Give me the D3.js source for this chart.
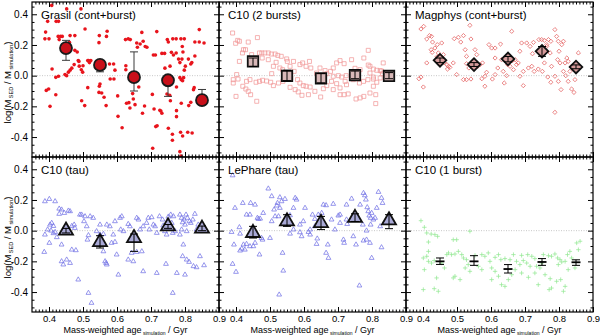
<!DOCTYPE html>
<html><head><meta charset="utf-8">
<script src="https://cdn.jsdelivr.net/npm/d3@7"></script>
<style>html,body{margin:0;padding:0;background:#fff;}svg{display:block;}</style>
</head><body>
<div id="chart"></div>
<script>
// ---------- DATA ----------
const panelTitles = ["Grasil (cont+burst)","C10 (2 bursts)","Magphys (cont+burst)","C10 (tau)","LePhare (tau)","C10 (1 burst)"];
const xTickVals = [0.4,0.5,0.6,0.7,0.8,0.9];
const yTickVals = [-0.4,-0.2,0.0,0.2,0.4];
const meanAge = [0.45,0.55,0.65,0.75,0.85];

const grasilPts = [[0.408,0.458],[0.452,0.435],[0.494,0.435],[0.390,0.284],[0.400,0.24],[0.388,0.24],[0.421,0.354],[0.428,0.354],[0.396,0.354],[0.427,0.256],[0.434,0.256],[0.439,0.256],[0.430,0.235],[0.462,0.261],[0.476,0.261],[0.460,0.217],[0.409,0.043],[0.420,-0.011],[0.428,-0.004],[0.452,0],[0.447,0.007],[0.457,0.023],[0.462,0.036],[0.467,0.049],[0.392,-0.096],[0.399,-0.087],[0.403,-0.2],[0.420,-0.124],[0.476,0.165],[0.483,0.154],[0.474,0.072],[0.486,0.098],[0.488,0.093],[0.489,0.062],[0.506,0.304],[0.500,0.065],[0.495,0.039],[0.499,0.023],[0.514,0.098],[0.516,0.098],[0.523,0.098],[0.519,0.085],[0.514,-0.078],[0.505,-0.195],[0.496,-0.163],[0.548,0.261],[0.547,0.215],[0.571,0.289],[0.569,0.256],[0.550,-0.054],[0.547,-0.109],[0.555,-0.113],[0.548,-0.069],[0.568,-0.195],[0.562,-0.141],[0.578,0.076],[0.590,0.076],[0.580,-0.022],[0.591,-0.022],[0.594,0.036],[0.602,-0.132],[0.603,-0.265],[0.626,0.065],[0.626,0.039],[0.615,-0.339],[0.633,0.24],[0.625,0.235],[0.639,0.235],[0.628,-0.18],[0.635,-0.176],[0.646,-0.117],[0.648,-0.152],[0.638,-0.211],[0.653,-0.189],[0.658,0.213],[0.660,0.185],[0.664,-0.074],[0.673,0.282],[0.677,0.224],[0.668,0.206],[0.683,0.19],[0.688,0.185],[0.681,-0.198],[0.675,-0.245],[0.707,0.135],[0.713,0.135],[0.704,-0.122],[0.709,-0.217],[0.714,-0.332],[0.718,-0.326],[0.705,-0.473],[0.729,-0.23],[0.732,-0.245],[0.717,0.287],[0.732,0.145],[0.740,0.145],[0.726,-0.226],[0.748,0.235],[0.751,0.219],[0.764,0.24],[0.774,0.24],[0.760,0.152],[0.766,0.135],[0.774,0.148],[0.741,0.049],[0.756,0.062],[0.747,-0.119],[0.755,-0.128],[0.757,-0.163],[0.751,-0.343],[0.763,-0.382],[0.763,-0.421],[0.775,-0.267],[0.775,-0.228],[0.788,0.24],[0.792,0.19],[0.794,0.154],[0.798,0.24],[0.791,0.108],[0.781,0.108],[0.785,0.085],[0.785,-0.013],[0.789,-0.026],[0.793,-0.033],[0.796,-0.013],[0.798,0.036],[0.801,0.062],[0.789,-0.18],[0.787,-0.369],[0.793,-0.393],[0.785,-0.495],[0.788,-0.523],[0.775,-0.074],[0.810,0.108],[0.817,0.076],[0.820,0.085],[0.829,0.219],[0.842,0.219],[0.856,0.213],[0.842,0.3],[0.827,-0.078],[0.825,-0.091],[0.817,-0.174],[0.811,-0.195],[0.808,-0.369],[0.821,-0.374],[0.829,0.128]];
const grasilMean = [0.18,0.07,-0.01,-0.03,-0.16];
const grasilLo = [0.10,0.025,-0.10,-0.135,-0.19];
const grasilHi = [0.23,0.098,0.155,-0.01,-0.09];

const c10TwoPts = [[0.390,0.278],[0.405,0.230],[0.410,0.224],[0.399,0.211],[0.436,0.219],[0.463,0.248],[0.422,0.169],[0.428,0.169],[0.419,0.148],[0.410,0.093],[0.446,0.137],[0.469,0.148],[0.476,0.148],[0.485,0.148],[0.495,0.148],[0.504,0.141],[0.515,0.141],[0.523,0.132],[0.533,0.126],[0.402,0.007],[0.392,-0.026],[0.406,-0.022],[0.392,-0.048],[0.400,-0.135],[0.420,-0.069],[0.429,-0.087],[0.436,-0.102],[0.443,-0.124],[0.461,-0.167],[0.431,-0.037],[0.441,-0.026],[0.459,-0.043],[0.469,-0.037],[0.478,-0.030],[0.490,-0.035],[0.502,-0.043],[0.510,-0.065],[0.525,-0.048],[0.538,-0.037],[0.549,0.109],[0.551,0.093],[0.569,0.093],[0.588,0.072],[0.596,0.083],[0.510,0.061],[0.518,0.087],[0.529,0.050],[0.495,0.104],[0.477,0.115],[0.505,0.013],[0.537,0.039],[0.559,0.061],[0.571,0.028],[0.561,-0.015],[0.581,-0.026],[0.588,-0.048],[0.598,-0.065],[0.606,-0.069],[0.618,-0.074],[0.559,-0.076],[0.574,-0.091],[0.583,-0.106],[0.594,-0.128],[0.613,-0.124],[0.632,-0.102],[0.642,-0.037],[0.616,0.093],[0.606,0.061],[0.620,0.050],[0.637,0.017],[0.647,0.050],[0.662,0.033],[0.667,0.013],[0.678,0.028],[0.686,0.050],[0.696,0.083],[0.706,0.098],[0.718,0.078],[0.686,-0.004],[0.701,0],[0.711,-0.009],[0.724,0],[0.681,-0.037],[0.696,-0.052],[0.667,-0.065],[0.657,-0.085],[0.649,-0.139],[0.686,-0.091],[0.706,-0.124],[0.718,-0.124],[0.730,-0.119],[0.740,0.104],[0.750,0.048],[0.765,0.039],[0.776,0.115],[0.789,0.165],[0.789,0.069],[0.794,0.061],[0.804,0.043],[0.814,0.035],[0.824,0.033],[0.833,0.083],[0.828,0.030],[0.831,0.013],[0.794,0.017],[0.804,-0.009],[0.814,-0.043],[0.824,-0.015],[0.804,-0.022],[0.745,-0.026],[0.763,-0.048],[0.775,-0.037],[0.788,-0.026],[0.753,-0.152],[0.765,-0.145],[0.776,-0.135],[0.794,-0.113],[0.811,-0.124],[0.811,-0.182],[0.804,-0.069],[0.745,-0.004],[0.760,0],[0.721,-0.037],[0.725,-0.059],[0.706,-0.080]];
const c10TwoMean = [0.093,-0.002,-0.017,0.004,-0.002];
const c10TwoLo = [0.06,-0.033,-0.048,-0.02,-0.02];
const c10TwoHi = [0.115,0.035,0.013,0.03,0.02];

const magphysPts = [[0.394,0.304],[0.402,0.321],[0.388,-0.020],[0.394,-0.009],[0.401,-0.074],[0.411,0.083],[0.411,0.239],[0.419,0.261],[0.425,0.256],[0.428,0.219],[0.424,0.169],[0.427,0.152],[0.435,0.180],[0.442,0.202],[0.445,0.148],[0.441,0.122],[0.455,0.213],[0.460,0.137],[0.463,0.083],[0.470,0.072],[0.475,0.061],[0.479,0.054],[0.472,0.043],[0.489,0.083],[0.492,0.241],[0.499,0.007],[0.504,0.25],[0.511,0.219],[0.519,0.261],[0.524,0.169],[0.528,0.078],[0.535,0.05],[0.528,0.126],[0.538,0.328],[0.541,0.239],[0.528,-0.026],[0.519,-0.026],[0.541,-0.022],[0.553,0.169],[0.558,0.137],[0.561,0.061],[0.568,0.072],[0.575,0.083],[0.573,-0.020],[0.582,-0.004],[0.587,0.022],[0.582,-0.069],[0.594,0.202],[0.602,0.18],[0.612,0.18],[0.612,0.115],[0.620,0.05],[0.604,-0.022],[0.628,0.206],[0.631,0.104],[0.636,0.028],[0.639,-0.048],[0.649,0.072],[0.656,0.061],[0.661,0.289],[0.666,0.039],[0.671,0.104],[0.675,0.072],[0.663,0.098],[0.680,0.083],[0.685,0.159],[0.690,0.213],[0.695,0.028],[0.695,-0.065],[0.705,0.213],[0.710,0.05],[0.720,0.061],[0.725,0.217],[0.727,0.028],[0.715,0.191],[0.741,0.235],[0.749,0.235],[0.757,0.23],[0.764,0.202],[0.769,0.235],[0.776,0.224],[0.764,0.191],[0.774,0.148],[0.757,0.083],[0.767,-0.009],[0.778,0.061],[0.788,0.3],[0.793,0.256],[0.798,0.224],[0.800,0.159],[0.796,0.104],[0.803,0.083],[0.808,0.202],[0.813,0.224],[0.788,-0.004],[0.798,-0.037],[0.806,-0.091],[0.813,0.028],[0.818,0.083],[0.823,0.115],[0.827,0.093],[0.820,0],[0.832,0.028],[0.837,0.061],[0.827,-0.037],[0.837,-0.087],[0.844,-0.109],[0.847,-0.026],[0.857,0.148],[0.788,-0.239],[0.776,-0.043],[0.751,0.028],[0.739,0.043],[0.722,0.143],[0.685,-0.004],[0.646,0],[0.612,0.007]];
const magphysMean = [0.10,0.072,0.109,0.159,0.056];
const magphysLo = [0.085,0.06,0.09,0.126,0.045];
const magphysHi = [0.115,0.085,0.125,0.19,0.07];

const c10TauPts = [[0.388,0.191],[0.401,0.206],[0.418,0.191],[0.388,-0.026],[0.386,-0.139],[0.401,-0.080],[0.413,-0.017],[0.406,0],[0.396,0.007],[0.413,0.030],[0.403,0.039],[0.408,0.050],[0.418,-0.009],[0.423,-0.043],[0.430,0.143],[0.437,0.137],[0.430,0.109],[0.445,0.115],[0.457,0.130],[0.462,0.126],[0.467,0.030],[0.474,0.039],[0.476,0.017],[0.437,-0.091],[0.437,-0.200],[0.442,-0.221],[0.452,-0.189],[0.462,-0.211],[0.467,-0.124],[0.479,-0.128],[0.486,-0.319],[0.516,-0.406],[0.525,-0.471],[0.491,0.104],[0.496,0.104],[0.506,0.093],[0.513,-0.059],[0.516,-0.030],[0.503,0.061],[0.511,0.028],[0.521,0.093],[0.530,0.083],[0.540,-0.004],[0.550,-0.026],[0.560,-0.022],[0.560,-0.135],[0.570,-0.221],[0.568,-0.211],[0.565,-0.200],[0.550,0.039],[0.570,0.039],[0.579,0.028],[0.584,-0.080],[0.589,-0.026],[0.594,-0.074],[0.599,-0.156],[0.604,-0.287],[0.594,0.061],[0.609,0.083],[0.614,0.093],[0.611,0.007],[0.619,-0.004],[0.633,0.043],[0.638,0.028],[0.643,-0.145],[0.648,-0.200],[0.633,-0.189],[0.658,0.083],[0.663,0.072],[0.658,-0.139],[0.673,-0.135],[0.677,-0.265],[0.668,0.007],[0.677,0.028],[0.687,0.050],[0.692,0.083],[0.702,0.087],[0.695,0.007],[0.707,0.039],[0.712,0.028],[0.717,-0.015],[0.717,-0.276],[0.725,0.093],[0.734,0.072],[0.736,0.033],[0.741,-0.004],[0.746,-0.026],[0.751,0.091],[0.758,0.104],[0.766,0.093],[0.761,0.050],[0.764,-0.015],[0.771,-0.004],[0.776,-0.276],[0.764,-0.406],[0.744,-0.217],[0.785,0.104],[0.790,0.083],[0.793,0.054],[0.797,0.072],[0.800,0.039],[0.805,-0.004],[0.790,0.007],[0.785,-0.026],[0.803,0.104],[0.807,0.083],[0.813,0.061],[0.817,0.050],[0.823,0.072],[0.829,0.109],[0.834,0.007],[0.839,0.039],[0.795,-0.091],[0.800,-0.287],[0.805,-0.189],[0.812,-0.204],[0.825,-0.232],[0.834,-0.239],[0.844,-0.167],[0.856,-0.226],[0.793,-0.167]];
const c10TauMean = [0.0,-0.074,-0.048,0.028,0.013];
const c10TauLo = [-0.015,-0.113,-0.135,0.015,0.0];
const c10TauHi = [0.015,-0.033,-0.022,0.04,0.03];

const lephPts = [[0.390,0.360],[0.397,0.148],[0.410,0.022],[0.387,-0.009],[0.412,-0.020],[0.394,-0.091],[0.390,-0.217],[0.400,-0.269],[0.420,0.180],[0.431,0.104],[0.441,0.104],[0.443,0.180],[0.456,0.169],[0.466,0.076],[0.471,0.078],[0.475,-0.048],[0.478,-0.059],[0.422,-0.091],[0.431,-0.087],[0.417,-0.117],[0.412,-0.130],[0.426,-0.124],[0.441,-0.102],[0.451,-0.102],[0.456,-0.080],[0.469,-0.156],[0.463,0.083],[0.480,0.115],[0.495,0.274],[0.505,0.224],[0.512,0.137],[0.525,0.093],[0.529,0.217],[0.534,0.191],[0.522,0.180],[0.520,0.163],[0.529,0.148],[0.544,0.206],[0.551,0.050],[0.559,0.100],[0.569,0.148],[0.574,0.213],[0.578,0.202],[0.559,-0.020],[0.537,-0.145],[0.539,-0.261],[0.527,-0.417],[0.569,0.007],[0.588,0.039],[0.588,-0.011],[0.593,-0.037],[0.603,0.148],[0.613,-0.009],[0.618,0.007],[0.625,0.104],[0.632,0.076],[0.642,0.104],[0.637,-0.087],[0.639,-0.052],[0.652,0.115],[0.657,0.169],[0.665,0.165],[0.670,-0.091],[0.672,-0.178],[0.665,-0.145],[0.681,0.072],[0.686,0.174],[0.701,0.098],[0.706,0.104],[0.716,-0.059],[0.718,-0.080],[0.725,0.072],[0.727,0.043],[0.740,0.208],[0.745,-0.037],[0.753,-0.091],[0.763,-0.358],[0.765,0.169],[0.775,0.245],[0.779,0.230],[0.782,0.202],[0.786,0.152],[0.789,0.126],[0.792,0.098],[0.796,0.083],[0.799,0.115],[0.804,0.072],[0.796,0.039],[0.809,0.083],[0.814,0.148],[0.819,0.252],[0.828,0.213],[0.831,0.180],[0.775,-0.065],[0.784,-0.059],[0.794,-0.080],[0.799,-0.178],[0.828,-0.109],[0.824,0.028],[0.784,0],[0.773,0.039],[0.725,0.169],[0.706,0.050],[0.691,0.007],[0.632,0.028],[0.618,-0.026],[0.598,0.061],[0.515,0.093],[0.505,0.061],[0.500,-0.048]];
const lephMean = [-0.015,0.061,0.05,0.083,0.067];
const lephLo = [-0.048,0.028,0.007,0.06,0.013];
const lephHi = [0.028,0.104,0.093,0.11,0.104];

const c10OnePts = [[0.394,0.065],[0.404,0.022],[0.411,-0.015],[0.424,-0.022],[0.435,-0.026],[0.443,-0.037],[0.416,-0.074],[0.401,-0.178],[0.411,-0.167],[0.416,-0.200],[0.425,-0.211],[0.433,-0.195],[0.404,-0.254],[0.401,-0.384],[0.433,-0.378],[0.445,-0.395],[0.440,-0.308],[0.463,-0.243],[0.470,-0.156],[0.475,-0.145],[0.484,-0.156],[0.494,-0.152],[0.489,-0.059],[0.499,-0.059],[0.504,-0.135],[0.514,-0.156],[0.519,-0.178],[0.528,-0.189],[0.538,-0.004],[0.524,-0.243],[0.533,-0.221],[0.538,-0.265],[0.489,-0.308],[0.494,-0.297],[0.509,-0.319],[0.553,-0.161],[0.563,-0.232],[0.573,-0.254],[0.573,-0.156],[0.582,-0.167],[0.592,-0.145],[0.597,-0.200],[0.602,-0.243],[0.612,-0.265],[0.622,-0.297],[0.631,-0.352],[0.641,-0.363],[0.651,-0.319],[0.661,-0.287],[0.602,-0.319],[0.612,-0.174],[0.622,-0.156],[0.629,-0.189],[0.641,-0.182],[0.656,-0.189],[0.675,-0.200],[0.685,-0.221],[0.695,-0.195],[0.705,-0.211],[0.715,-0.232],[0.671,-0.254],[0.690,-0.276],[0.710,-0.304],[0.729,-0.276],[0.666,-0.156],[0.690,-0.161],[0.708,-0.156],[0.720,-0.167],[0.729,-0.182],[0.734,-0.232],[0.744,-0.243],[0.754,-0.156],[0.769,-0.163],[0.778,-0.167],[0.788,-0.152],[0.796,-0.178],[0.803,-0.189],[0.808,-0.204],[0.818,-0.200],[0.825,-0.156],[0.832,-0.135],[0.837,-0.178],[0.847,-0.243],[0.857,-0.124],[0.862,-0.069],[0.852,-0.080],[0.771,-0.384],[0.778,-0.374],[0.793,-0.330],[0.805,-0.319],[0.813,-0.395],[0.818,-0.363],[0.827,-0.254],[0.774,-0.313],[0.759,-0.287],[0.739,-0.352],[0.416,-0.135],[0.455,-0.211],[0.749,-0.211],[0.798,-0.221]];
const c10OneMean = [-0.2,-0.2,-0.25,-0.204,-0.206];
const c10OneLo = [-0.22,-0.226,-0.276,-0.226,-0.226];
const c10OneHi = [-0.178,-0.163,-0.221,-0.182,-0.19];

// ---------- DRAWING ----------
const W = 600, H = 335;
const plotLeft = 32, panelW = 187, panelH = 155, rowTops = [2, 157];
const FONT = "'Liberation Sans', Arial, Helvetica, sans-serif";

const svg = d3.select("#chart").append("svg").attr("width", W).attr("height", H)
  .style("font-family", FONT);

const panels = [
  {pts: grasilPts, mean: grasilMean, lo: grasilLo, hi: grasilHi, kind: "circle"},
  {pts: c10TwoPts, mean: c10TwoMean, lo: c10TwoLo, hi: c10TwoHi, kind: "square"},
  {pts: magphysPts, mean: magphysMean, lo: magphysLo, hi: magphysHi, kind: "diamond"},
  {pts: c10TauPts, mean: c10TauMean, lo: c10TauLo, hi: c10TauHi, kind: "triangle"},
  {pts: lephPts, mean: lephMean, lo: lephLo, hi: lephHi, kind: "triangle"},
  {pts: c10OnePts, mean: c10OneMean, lo: c10OneLo, hi: c10OneHi, kind: "plus"}
];

const minorX = d3.range(36, 90).map(d => d / 100);
const minorY = d3.range(-10, 10).map(d => d * 0.05).filter(d => Math.abs(Math.round(d*100) % 20) !== 0);

const plusPath = s => `M${-s},0H${s}M0,${-s}V${s}`;

panels.forEach((p, i) => {
  const col = i % 3, row = Math.floor(i / 3);
  const x0 = plotLeft + col * panelW, y0 = rowTops[row];
  const x = d3.scaleLinear().domain([0.35, 0.9]).range([x0, x0 + panelW]);
  const y = d3.scaleLinear().domain([-0.53, 0.48]).range([y0 + panelH, y0]);
  const g = svg.append("g");

  const clipId = "clip" + i;
  svg.append("clipPath").attr("id", clipId).append("rect")
    .attr("x", x0).attr("y", y0).attr("width", panelW).attr("height", panelH);
  const gd = g.append("g").attr("clip-path", `url(#${clipId})`);

  // zero line
  gd.append("line").attr("x1", x0).attr("x2", x0 + panelW).attr("y1", y(0)).attr("y2", y(0))
    .attr("stroke", "#b0b0b0").attr("stroke-width", 0.7).attr("stroke-dasharray", "1,1.5");

  // scatter
  const sc = gd.append("g");
  if (p.kind === "circle") {
    sc.selectAll("circle").data(p.pts).join("circle")
      .attr("cx", d => x(d[0])).attr("cy", d => y(d[1])).attr("r", 1.8).attr("fill", "#e8141c");
  } else if (p.kind === "square") {
    const sym = d3.symbol().type(d3.symbolSquare).size(16);
    sc.selectAll("path").data(p.pts).join("path").attr("d", sym)
      .attr("transform", d => `translate(${x(d[0])},${y(d[1])})`)
      .attr("fill", "none").attr("stroke", "#f29a9a").attr("stroke-width", 0.75);
  } else if (p.kind === "diamond") {
    const sym = d3.symbol().type(d3.symbolSquare).size(9);
    sc.selectAll("path").data(p.pts).join("path").attr("d", sym)
      .attr("transform", d => `translate(${x(d[0])},${y(d[1])}) rotate(45)`)
      .attr("fill", "none").attr("stroke", "#e46464").attr("stroke-width", 0.75);
  } else if (p.kind === "triangle") {
    const sym = d3.symbol().type(d3.symbolTriangle).size(10);
    sc.selectAll("path").data(p.pts).join("path").attr("d", sym)
      .attr("transform", d => `translate(${x(d[0])},${y(d[1])})`)
      .attr("fill", "none").attr("stroke", "#7474e6").attr("stroke-width", 0.75);
  } else {
    sc.selectAll("path").data(p.pts).join("path").attr("d", plusPath(2.2))
      .attr("transform", d => `translate(${x(d[0])},${y(d[1])})`)
      .attr("fill", "none").attr("stroke", "#94e894").attr("stroke-width", 0.75);
  }

  // means with error bars
  const mg = gd.append("g");
  const md = meanAge.map((a, k) => ({a, m: p.mean[k], lo: p.lo[k], hi: p.hi[k]}));
  const errColor = p.kind === "circle" ? "#3a3a3a" : "#000";
  const drawErr = (sel) => {
    const e = sel.selectAll("g.err").data(md).join("g").attr("class", "err")
      .attr("stroke", errColor).attr("stroke-width", 1);
    e.append("line").attr("x1", d => x(d.a)).attr("x2", d => x(d.a)).attr("y1", d => y(d.lo)).attr("y2", d => y(d.hi));
    e.append("line").attr("x1", d => x(d.a) - 4).attr("x2", d => x(d.a) + 4).attr("y1", d => y(d.lo)).attr("y2", d => y(d.lo));
    e.append("line").attr("x1", d => x(d.a) - 4).attr("x2", d => x(d.a) + 4).attr("y1", d => y(d.hi)).attr("y2", d => y(d.hi));
  };
  if (p.kind === "circle") {
    drawErr(mg.append("g"));
    mg.append("g").selectAll("circle").data(md).join("circle")
      .attr("cx", d => x(d.a)).attr("cy", d => y(d.m)).attr("r", 6)
      .attr("fill", "#c8101a").attr("stroke", "#1a1a1a").attr("stroke-width", 1.8);
  } else if (p.kind === "square") {
    mg.append("g").selectAll("path").data(md).join("path")
      .attr("d", d3.symbol().type(d3.symbolSquare).size(110))
      .attr("transform", d => `translate(${x(d.a)},${y(d.m)})`)
      .attr("fill", "#d8b8b8").attr("stroke", "#111").attr("stroke-width", 1.8);
    drawErr(mg.append("g"));
  } else if (p.kind === "diamond") {
    mg.append("g").selectAll("path").data(md).join("path")
      .attr("d", d3.symbol().type(d3.symbolSquare).size(80))
      .attr("transform", d => `translate(${x(d.a)},${y(d.m)}) rotate(45)`)
      .attr("fill", "#d49a9a").attr("stroke", "#111").attr("stroke-width", 1.8);
    drawErr(mg.append("g"));
  } else if (p.kind === "triangle") {
    mg.append("g").selectAll("path").data(md).join("path")
      .attr("d", d3.symbol().type(d3.symbolTriangle).size(85))
      .attr("transform", d => `translate(${x(d.a)},${y(d.m)})`)
      .attr("fill", "#a9a9d6").attr("stroke", "#111").attr("stroke-width", 1.8);
    drawErr(mg.append("g"));
  } else {
    drawErr(mg.append("g"));
    mg.append("g").selectAll("path").data(md).join("path").attr("d", `M-4.5,0H4.5`)
      .attr("transform", d => `translate(${x(d.a)},${y(d.m)})`)
      .attr("stroke", "#000").attr("stroke-width", 1.8);
  }

  // frame
  g.append("rect").attr("x", x0).attr("y", y0).attr("width", panelW).attr("height", panelH)
    .attr("fill", "none").attr("stroke", "#000").attr("stroke-width", 1.2);

  // axes: major ticks inward, minor ticks inward
  const fmt = d => d.toFixed(1);
  const styleAxis = (fs) => (ag) => {
    ag.select(".domain").remove();
    ag.selectAll("line").attr("stroke", "#000").attr("stroke-width", 1);
    ag.selectAll("text").attr("font-family", FONT).attr("font-size", fs).attr("fill", "#000");
  };
  g.append("g").attr("transform", `translate(0,${y0 + panelH})`)
    .call(d3.axisBottom(x).tickValues(xTickVals).tickSize(-5).tickPadding(3)
      .tickFormat(row === 1 ? fmt : () => "")).call(styleAxis(9.5));
  g.append("g").attr("transform", `translate(0,${y0 + panelH})`)
    .call(d3.axisBottom(x).tickValues(minorX).tickSize(-2.5).tickFormat(() => "")).call(styleAxis(9.5));
  g.append("g").attr("transform", `translate(0,${y0})`)
    .call(d3.axisTop(x).tickValues(xTickVals).tickSize(-5).tickFormat(() => "")).call(styleAxis(9.5));
  g.append("g").attr("transform", `translate(0,${y0})`)
    .call(d3.axisTop(x).tickValues(minorX).tickSize(-2.5).tickFormat(() => "")).call(styleAxis(9.5));
  g.append("g").attr("transform", `translate(${x0},0)`)
    .call(d3.axisLeft(y).tickValues(yTickVals).tickSize(-5).tickPadding(4)
      .tickFormat(col === 0 ? fmt : () => "")).call(styleAxis(10));
  g.append("g").attr("transform", `translate(${x0},0)`)
    .call(d3.axisLeft(y).tickValues(minorY).tickSize(-2.5).tickFormat(() => "")).call(styleAxis(10));
  g.append("g").attr("transform", `translate(${x0 + panelW},0)`)
    .call(d3.axisRight(y).tickValues(yTickVals).tickSize(-5).tickFormat(() => "")).call(styleAxis(10));
  g.append("g").attr("transform", `translate(${x0 + panelW},0)`)
    .call(d3.axisRight(y).tickValues(minorY).tickSize(-2.5).tickFormat(() => "")).call(styleAxis(10));

  // title
  g.append("text").attr("x", x0 + 9).attr("y", y0 + 17).attr("font-size", 11.5)
    .attr("font-family", FONT).text(panelTitles[i]);

  // axis titles
  if (row === 1) {
    const t = g.append("text").attr("x", x0 + panelW / 2).attr("y", 333)
      .attr("text-anchor", "middle").attr("font-size", 9).attr("font-family", FONT);
    t.append("tspan").text("Mass-weighted age");
    t.append("tspan").attr("font-size", 5).attr("dy", 1.5).text(" simulation");
    t.append("tspan").attr("dy", -1.5).text(" / Gyr");
  }
  if (col === 0) {
    const cy = y0 + panelH / 2 + 3;
    const t = g.append("text").attr("transform", `translate(11,${cy}) rotate(-90)`)
      .attr("text-anchor", "middle").attr("font-size", 9.5).attr("font-family", FONT);
    t.append("tspan").text("log(M");
    t.append("tspan").attr("font-size", 5.5).attr("dy", 1.5).text(" SED");
    t.append("tspan").attr("dy", -1.5).text(" / M");
    t.append("tspan").attr("font-size", 5.5).attr("dy", 1.5).text(" simulation");
    t.append("tspan").attr("dy", -1.5).text(")");
  }
});
</script>
</body></html>
